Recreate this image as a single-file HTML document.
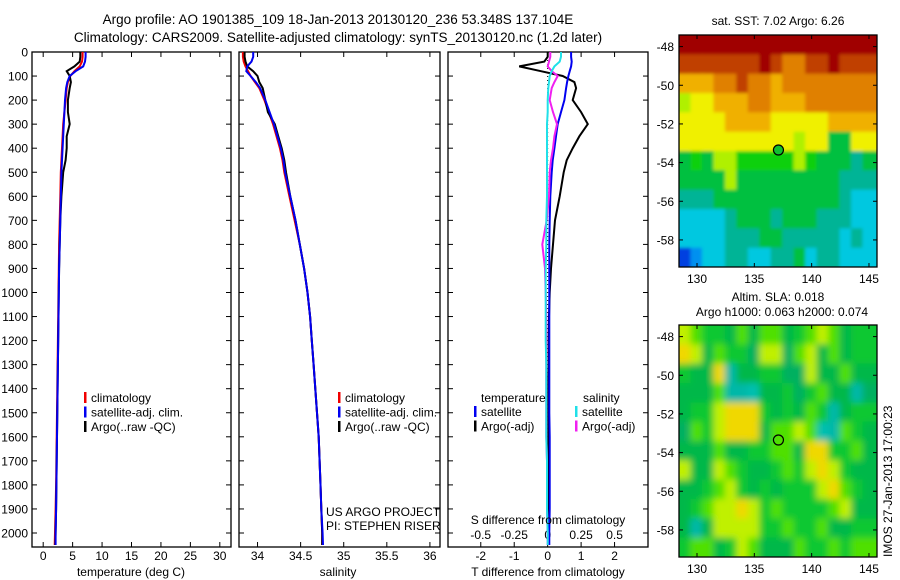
<!DOCTYPE html>
<html><head><meta charset="utf-8"><style>
html,body{margin:0;padding:0;background:#fff;}
svg{display:block;font-family:"Liberation Sans",sans-serif;}
text{fill:#000;}
</style></head><body>
<svg id="fig" width="900" height="580" viewBox="0 0 900 580" xmlns="http://www.w3.org/2000/svg">
<defs>
<filter id="blurS" x="-5%" y="-5%" width="110%" height="110%"><feGaussianBlur stdDeviation="1.5"/></filter>
<filter id="blurL" x="-5%" y="-5%" width="110%" height="110%"><feGaussianBlur stdDeviation="3.5"/></filter>
</defs>
<text x="338" y="24" font-size="13.5" text-anchor="middle">Argo profile: AO 1901385_109 18-Jan-2013 20130120_236 53.348S 137.104E</text>
<text x="338" y="42" font-size="13.5" text-anchor="middle">Climatology: CARS2009. Satellite-adjusted climatology: synTS_20130120.nc (1.2d later)</text>
<text x="778" y="25" font-size="12" text-anchor="middle">sat. SST: 7.02 Argo: 6.26</text>
<text x="778" y="301" font-size="12" text-anchor="middle">Altim. SLA: 0.018</text>
<text x="782" y="316" font-size="12" text-anchor="middle">Argo h1000: 0.063 h2000: 0.074</text>
<text transform="translate(892,557) rotate(-90)" font-size="12">IMOS 27-Jan-2013 17:00:23</text>
</svg>
<script>
// ---- data ----
const depths=[0,20,40,60,80,100,125,150,200,250,300,350,400,450,500,600,700,800,900,1000,1100,1200,1300,1400,1500,1600,1700,1800,1900,2000,2050];
const tempClim=[6.7,6.7,6.6,6.2,5.3,4.6,4.2,4.0,3.8,3.6,3.4,3.3,3.2,3.1,3.0,2.9,2.8,2.7,2.65,2.6,2.55,2.5,2.45,2.4,2.35,2.3,2.25,2.2,2.1,2.0,1.95];
const tempSat=[7.2,7.2,7.1,6.8,5.5,4.5,4.1,3.9,3.7,3.6,3.5,3.4,3.3,3.2,3.1,3.0,2.9,2.8,2.7,2.65,2.6,2.55,2.5,2.45,2.4,2.35,2.3,2.25,2.2,2.1,2.1];
const tempArgo=[6.3,6.3,6.2,5.3,4.0,4.5,4.7,4.5,4.2,4.2,4.5,4.0,4.0,3.8,3.4,3.1,2.9,2.8,2.7,2.65,2.6,2.55,2.5,2.45,2.4,2.35,2.3,2.25,2.2,2.1,2.05];
const salClim=[33.83,33.83,33.84,33.86,33.89,33.92,33.97,34.02,34.08,34.13,34.18,34.22,34.26,34.29,34.31,34.37,34.43,34.49,34.54,34.58,34.61,34.63,34.65,34.67,34.69,34.71,34.72,34.73,34.74,34.75,34.75];
const salSat=[33.95,33.95,33.93,33.88,33.87,33.92,33.98,34.03,34.09,34.14,34.19,34.23,34.27,34.30,34.32,34.38,34.44,34.49,34.54,34.58,34.61,34.63,34.65,34.67,34.69,34.71,34.72,34.73,34.74,34.755,34.76];
const salArgo=[33.85,33.85,33.86,33.88,33.95,34.0,34.02,34.06,34.09,34.12,34.2,34.24,34.28,34.31,34.33,34.38,34.44,34.49,34.54,34.58,34.61,34.63,34.65,34.67,34.69,34.71,34.72,34.73,34.74,34.75,34.75];
const tDiffSat=[0.7,0.7,0.72,0.7,0.66,0.62,0.58,0.55,0.5,0.4,0.3,0.25,0.2,0.15,0.12,0.08,0.06,0.05,0.05,0.05,0.05,0.05,0.05,0.05,0.05,0.06,0.06,0.06,0.06,0.05,0.05];
const tDiffArgo=[0,0,-0.1,-0.85,-0.2,0.45,0.8,0.85,0.75,1.0,1.2,0.95,0.75,0.57,0.48,0.36,0.22,0.16,0.1,0.06,0.04,0.03,0.03,0.02,0.02,0.02,0.02,0.02,0.02,0.02,0.02];
const sDiffSat=[0.1,0.1,0.09,0.05,0.03,0.015,0.01,0.005,0,0,-0.005,-0.005,-0.005,-0.005,-0.005,-0.005,-0.01,-0.01,-0.015,-0.015,-0.015,-0.015,-0.01,-0.01,-0.01,-0.01,-0.005,-0.005,-0.005,0,0];
const sDiffArgo=[0.02,0.02,0.01,0,0.03,0.075,0.05,0.03,0.015,0.04,0.07,0.05,0.04,0.025,0.015,0.01,-0.007,-0.04,-0.02,-0.015,-0.01,-0.01,-0.01,-0.01,-0.01,-0.01,-0.005,-0.005,-0.005,0,0];
const depthTicks=[0,100,200,300,400,500,600,700,800,900,1000,1100,1200,1300,1400,1500,1600,1700,1800,1900,2000];
const tempTicks=[0,5,10,15,20,25,30];
const salTicks=[34,34.5,35,35.5,36];
const salTickLabels=["34","34.5","35","35.5","36"];
const tDiffTicks=[-2,-1,0,1,2];
const sDiffTicks=[-0.5,-0.25,0,0.25,0.5];
const sDiffTickLabels=["-0.5","-0.25","0","0.25","0.5"];
const latTicks=[-48,-50,-52,-54,-56,-58];
const lonTicks=[130,135,140,145];
const argoLon=137.104, argoLat=-53.348;
const sstRows=["BBBBBBBBBBBBBBBBB","AAAAAAABA99AABAAA","88899A99899999999","67788899888999999","77778888777778888","77777777776774477","45466555556544434","44446444444444333","33344444444444322","22223444344433322","22223334433333232","01223322334233222"];
const slaRows=["65443535534565344","76354426625635344","43370334422633533","33350013342453302","34467774343540344","25467773556510543","33353344553774453","63365433454676433","33456434344467543","34566764544445633","30366664454453344","45534653335445455"];
const sstColors={"0":"#0040e0","1":"#0090f0","2":"#00c8e0","3":"#00b496","4":"#00c040","5":"#10d010","6":"#b0f000","7":"#f0f000","8":"#f0b000","9":"#e08000","A":"#c04000","B":"#a00000"};
const slaColors={"0":"#00b8a8","1":"#00c0b0","2":"#00b060","3":"#00b848","4":"#10c830","5":"#50e000","6":"#c0f000","7":"#f0d800"};

const NS="http://www.w3.org/2000/svg";
const svg=document.getElementById('fig');
function el(tag,attrs,parent){const e=document.createElementNS(NS,tag);for(const k in attrs)e.setAttribute(k,attrs[k]);(parent||svg).appendChild(e);return e;}
function txt(s,x,y,attrs,parent){const e=el('text',Object.assign({x:x,y:y,'font-size':12},attrs||{}),parent);e.textContent=s;return e;}

const Y0=52, YS=0.2405;
const yD=d=>Y0+d*YS;
function panel(name,x0,x1,vmin,vmax){
  const g=el('g',{});
  
  
  const r=el('rect',{x:x0,y:52,width:x1-x0,height:495,fill:'none',stroke:'#000','stroke-width':1.3},g);
  
  
  return {g:g,sx:v=>x0+(v-vmin)/(vmax-vmin)*(x1-x0),x0:x0,x1:x1};
}
function line(p,vals,color,name,w){
  const pts=vals.map((v,i)=>p.sx(v).toFixed(1)+','+yD(depths[i]).toFixed(1)).join(' ');
  const l=el('polyline',{points:pts,fill:'none',stroke:color,'stroke-width':w||2},p.g);
  
  
}
function xticks(p,ticks,labels,name){
  ticks.forEach((t,i)=>{
    const x=p.sx(t);
    el('line',{x1:x,y1:547,x2:x,y2:542,stroke:'#000'},p.g);
    el('line',{x1:x,y1:52,x2:x,y2:57,stroke:'#000'},p.g);
    const tl=txt(labels?labels[i]:String(t),x,560,{'text-anchor':'middle'},p.g);
    
    
  });
}
function legend(p,x,y,items){
  items.forEach((it,i)=>{
    el('rect',{x:x,y:y+i*14.5-10,width:2.5,height:11,fill:it[1]},p.g);
    const t=txt(it[0],x+7,y+i*14.5,{},p.g);
    
    
  });
}

// Panel 1 temperature
const p1=panel('temperature-panel',32,231,-1.9,31.9);
depthTicks.forEach(d=>{
  el('line',{x1:32,y1:yD(d),x2:37,y2:yD(d),stroke:'#000'},p1.g);
  el('line',{x1:231,y1:yD(d),x2:226,y2:yD(d),stroke:'#000'},p1.g);
  const t=txt(String(d),28,yD(d)+4.5,{'text-anchor':'end'},p1.g);
  
  
});
xticks(p1,tempTicks,null,'temperature');
line(p1,tempClim,'#f00000','temperature-climatology');
line(p1,tempArgo,'#000','temperature-argo');
line(p1,tempSat,'#0000f0','temperature-satellite');
legend(p1,84,402,[["climatology","#f00000"],["satellite-adj. clim.","#0000f0"],["Argo(..raw -QC)","#000"]]);
const xt1=txt('temperature (deg C)',131,576,{'text-anchor':'middle'});



// Panel 2 salinity
const p2=panel('salinity-panel',239,440,33.785,36.117);
depthTicks.forEach(d=>{
  el('line',{x1:239,y1:yD(d),x2:244,y2:yD(d),stroke:'#000'},p2.g);
  el('line',{x1:440,y1:yD(d),x2:435,y2:yD(d),stroke:'#000'},p2.g);
});
xticks(p2,salTicks,salTickLabels,'salinity');
line(p2,salClim,'#f00000','salinity-climatology');
line(p2,salArgo,'#000','salinity-argo');
line(p2,salSat,'#0000f0','salinity-satellite');
legend(p2,338,402,[["climatology","#f00000"],["satellite-adj. clim.","#0000f0"],["Argo(..raw -QC)","#000"]]);
txt('US ARGO PROJECT',326,516,{},p2.g);
txt('PI: STEPHEN RISER',326,530,{},p2.g);
const xt2=txt('salinity',338,576,{'text-anchor':'middle'});



// Panel 3 differences
const p3=panel('difference-panel',448,648,-2.98,3.0);
depthTicks.forEach(d=>{
  el('line',{x1:648,y1:yD(d),x2:643,y2:yD(d),stroke:'#000'},p3.g);
  el('line',{x1:448,y1:yD(d),x2:453,y2:yD(d),stroke:'#000'},p3.g);
});
xticks(p3,tDiffTicks,null,'t-difference');
const sx=s=>p3.sx(s*4);
sDiffTicks.forEach((s,i)=>{
  const t=txt(sDiffTickLabels[i],sx(s),539,{'text-anchor':'middle'},p3.g);
  
  
});
el('line',{x1:p3.sx(0),y1:52,x2:p3.sx(0),y2:547,stroke:'#000','stroke-dasharray':'1,3'},p3.g);
line(p3,tDiffArgo,'#000','t-difference-argo');
line(p3,tDiffSat,'#0000f0','t-difference-satellite');
line(p3,sDiffArgo.map(v=>v*4),'#f020f0','s-difference-argo');
line(p3,sDiffSat.map(v=>v*4),'#20e0e8','s-difference-satellite');
txt('temperature',481,402,{},p3.g);
txt('salinity',583,402,{},p3.g);
legend(p3,474,416,[["satellite","#0000f0"],["Argo(-adj)","#000"]]);
legend(p3,575,416,[["satellite","#20e0e8"],["Argo(-adj)","#f020f0"]]);
txt('S difference from climatology',548,524,{'text-anchor':'middle'},p3.g);
const xt3=txt('T difference from climatology',548,576,{'text-anchor':'middle'});



// Maps
const MX0=679,MX1=877,LON0=128.43,LON1=145.7,LAT0=-47.4,LAT1=-59.4;
const lx=l=>MX0+(l-LON0)/(LON1-LON0)*(MX1-MX0);
function map(name,top,rows,colors,filt){
  const bot=top+232;
  const ly=l=>top+(l-LAT0)/(LAT1-LAT0)*(bot-top);
  const g=el('g',{});
  
  
  const cp=el('clipPath',{id:name+'-clip'},g);
  el('rect',{x:MX0,y:top,width:MX1-MX0,height:bot-top},cp);
  const outer=el('g',{'clip-path':'url(#'+name+'-clip)'},g);
  const cg=el('g',{filter:'url(#'+filt+')'},outer);
  rows.forEach((row,r)=>{
    for(let c=0;c<row.length;c++){
      const x=lx(LON0+c),y=ly(LAT0-r);
      let w=lx(LON0+c+1)-x+0.6, h=ly(LAT0-r-1)-y+0.6;
      let xx=x, yy=y;
      if(c===0){xx-=10;w+=10;}
      if(c===row.length-1){w+=12;}
      if(r===0){yy-=10;h+=10;}
      if(r===rows.length-1){h+=12;}
      const cell=el('rect',{x:xx.toFixed(1),y:yy.toFixed(1),width:w.toFixed(1),height:h.toFixed(1),fill:colors[row[c]]},cg);
      
      
    }
  });
  el('rect',{x:MX0,y:top,width:MX1-MX0,height:bot-top,fill:'none',stroke:'#000','stroke-width':1.3},g);
  latTicks.forEach(l=>{
    el('line',{x1:MX0,y1:ly(l),x2:MX0+4,y2:ly(l),stroke:'#000'},g);
    el('line',{x1:MX1,y1:ly(l),x2:MX1-4,y2:ly(l),stroke:'#000'},g);
    const t=txt(String(l),674,ly(l)+4.5,{'text-anchor':'end'},g);
    
    
  });
  lonTicks.forEach(l=>{
    el('line',{x1:lx(l),y1:top,x2:lx(l),y2:top+4,stroke:'#000'},g);
    el('line',{x1:lx(l),y1:bot,x2:lx(l),y2:bot-4,stroke:'#000'},g);
    const t=txt(String(l),lx(l),bot+16,{'text-anchor':'middle'},g);
    
    
  });
  return {g:g,ly:ly};
}
const m1=map('sst-map',35,sstRows,sstColors,'blurS');
const c1=el('circle',{cx:lx(argoLon),cy:m1.ly(argoLat),r:5,fill:'#10c030',stroke:'#000','stroke-width':1.2},m1.g);


const m2=map('sla-map',325,slaRows,slaColors,'blurL');
const c2=el('circle',{cx:lx(argoLon),cy:m2.ly(argoLat),r:5,fill:'none',stroke:'#000','stroke-width':1.2},m2.g);


</script>
</body></html>
